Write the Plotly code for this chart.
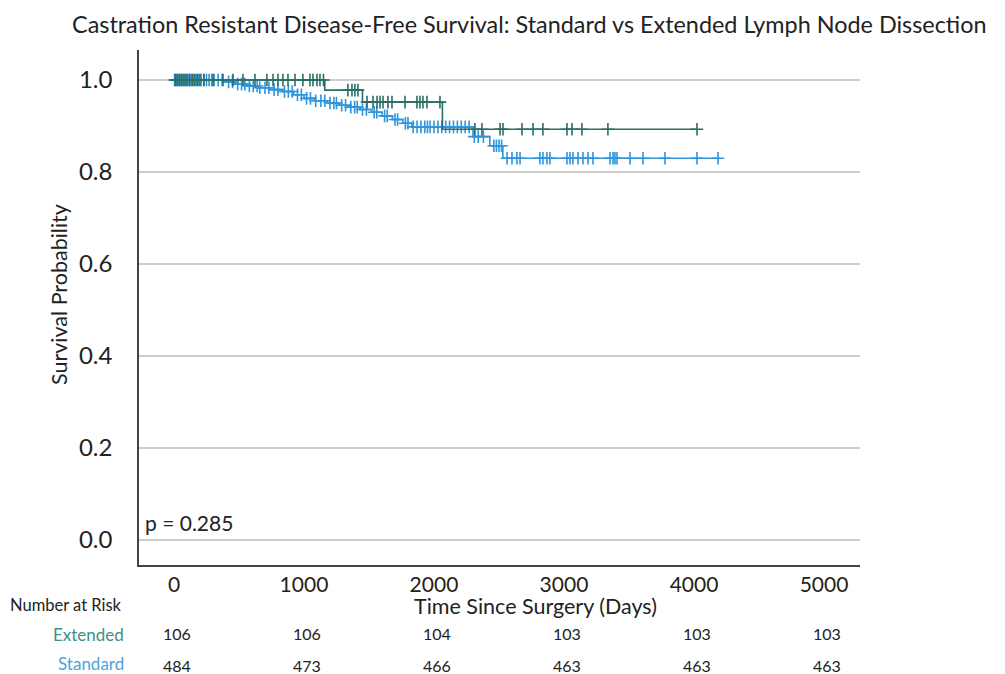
import numpy as np
import plotly.graph_objects as go

# ---------------- data ----------------
title_text = "Castration Resistant Disease-Free Survival: Standard vs Extended Lymph Node Dissection"

# Extended: step times (days) and survival after each step
ext_times = [0, 1160, 1450, 2065]
ext_surv = [1.0, 0.978, 0.952, 0.893]
ext_end = 4023
ext_censor = [10, 25, 40, 55, 70, 85, 100, 120, 140, 160, 180, 200, 230, 300, 377, 454,
              531, 623, 715, 762, 800, 838, 877, 931, 992, 1046, 1069, 1100, 1123, 1150,
              1338, 1369, 1392, 1415, 1485, 1531, 1562, 1585, 1608, 1646, 1677, 1777,
              1869, 1892, 1915, 1946, 2046, 2315, 2369, 2508, 2531, 2677, 2762, 2838,
              3023, 3062, 3138, 3338, 4023]

# Standard
std_times = [0, 380, 470, 560, 650, 740, 830, 920, 1000, 1080, 1180, 1270, 1350, 1430,
             1520, 1600, 1680, 1760, 1830, 2300, 2430, 2530]
std_surv = [1.0, 0.996, 0.991, 0.987, 0.983, 0.979, 0.975, 0.968, 0.960, 0.955, 0.950,
            0.945, 0.941, 0.936, 0.930, 0.922, 0.914, 0.906, 0.898, 0.877, 0.857, 0.830]
std_end = 4185
std_censor = [5, 15, 25, 40, 55, 70, 85, 100, 115, 130, 150, 170, 190, 210, 230, 250, 270,
              290, 310, 340, 370, 420, 450, 490, 520, 545, 580, 610, 640, 660, 700, 730,
              770, 800, 850, 880, 910, 950, 980, 1020, 1050, 1090, 1130, 1160, 1200, 1230,
              1250, 1290, 1320, 1360, 1390, 1410, 1450, 1480, 1540, 1560, 1620, 1640,
              1700, 1720, 1780, 1800, 1840, 1870, 1900, 1930, 1950, 1970, 2000, 2030,
              2060, 2090, 2120, 2150, 2180, 2210, 2240, 2270, 2310, 2340, 2380, 2460,
              2480, 2500, 2520, 2562, 2600, 2638, 2662, 2815, 2838, 2869, 2892, 3023,
              3046, 3069, 3108, 3146, 3185, 3223, 3354, 3377, 3392, 3408, 3508, 3608,
              3777, 4023, 4185]

p_text = "p = 0.285"
risk_times = [0, 1000, 2000, 3000, 4000, 5000]
risk_ext = [106, 106, 104, 103, 103, 103]
risk_std = [484, 473, 466, 463, 463, 463]
x_ticks = [0, 1000, 2000, 3000, 4000, 5000]
y_ticks = [0.0, 0.2, 0.4, 0.6, 0.8, 1.0]

# ---------------- styling ----------------
FONT = "Lato"
TEAL = "#2b6e68"
BLUE = "#2f95dd"
TEAL_TXT = "#3f8f8a"
BLUE_TXT = "#4aa6d6"
TXT = "#222222"

# plot area in page pixels: x 139..860, y 50..565 (page has an 8px body margin)
PX0, PX1, PY0, PY1 = 139, 860, 50, 565
OFF = 8
W, H = 1005 - OFF, 674 - OFF


def px(xp):
    return (xp - PX0) / (PX1 - PX0)


def py(yp):
    return (PY1 - yp) / (PY1 - PY0)


def surv_at(times, surv, t):
    idx = np.searchsorted(np.asarray(times), np.asarray(t), side="right") - 1
    return np.asarray(surv)[idx]


fig = go.Figure()

for times, surv, end, cens, col in [
    (std_times, std_surv, std_end, std_censor, BLUE),
    (ext_times, ext_surv, ext_end, ext_censor, TEAL),
]:
    xs = list(times) + [end]
    ys = list(surv) + [surv[-1]]
    fig.add_trace(go.Scatter(x=xs, y=ys, mode="lines", line=dict(color=col, width=1.6, shape="hv"),
                             showlegend=False, hoverinfo="skip"))
    fig.add_trace(go.Scatter(x=cens, y=surv_at(times, surv, cens), mode="markers",
                             marker=dict(symbol="cross-thin", size=9, line=dict(color=col, width=1.6)),
                             showlegend=False, hoverinfo="skip"))

fig.update_layout(
    width=W, height=H,
    margin=dict(l=PX0 - OFF, r=W - (PX1 - OFF), t=PY0 - OFF, b=H - (PY1 - OFF)),
    paper_bgcolor="white", plot_bgcolor="white",
    font=dict(family=FONT, color=TXT),
    showlegend=False,
)

fig.update_xaxes(range=[-269, 5277], tickvals=x_ticks, ticktext=[str(v) for v in x_ticks],
                 tickfont=dict(size=21, family=FONT, color=TXT), ticks="", showgrid=False,
                 zeroline=False, showline=True, linecolor="#444", linewidth=1.5,
                 ticklabelstandoff=0)
fig.update_yaxes(range=[-0.0543, 1.0652], tickvals=y_ticks, ticktext=[f"{v:.1f}" for v in y_ticks],
                 tickfont=dict(size=24, family=FONT, color=TXT), ticks="", showgrid=True,
                 gridcolor="#cccccc", gridwidth=1.5, zeroline=False, showline=True,
                 linecolor="#444", linewidth=1.5, ticklabelstandoff=20)

ann = []
ann.append(dict(text=title_text, xref="paper", yref="paper", x=px(529), y=py(24),
                xanchor="center", yanchor="middle", showarrow=False, font=dict(size=23.4, family=FONT, color=TXT)))
ann.append(dict(text="Survival Probability", xref="paper", yref="paper", x=px(59),
                y=py(295), textangle=-90, xanchor="center", yanchor="middle", showarrow=False,
                font=dict(size=21.5, family=FONT, color=TXT)))
ann.append(dict(text="Time Since Surgery (Days)", xref="paper", yref="paper", x=px(535),
                y=py(606), xanchor="center", yanchor="middle", showarrow=False,
                font=dict(size=21.5, family=FONT, color=TXT)))
ann.append(dict(text=p_text, xref="paper", yref="paper", x=px(143), y=py(522),
                xanchor="left", yanchor="middle", showarrow=False, font=dict(size=21, family=FONT, color=TXT)))
ann.append(dict(text="Number at Risk", xref="paper", yref="paper", x=px(124), y=py(605),
                xanchor="right", yanchor="middle", showarrow=False, font=dict(size=16.5, family=FONT, color=TXT)))
ann.append(dict(text="Extended", xref="paper", yref="paper", x=px(126), y=py(634),
                xanchor="right", yanchor="middle", showarrow=False, font=dict(size=17, family=FONT, color=TEAL_TXT)))
ann.append(dict(text="Standard", xref="paper", yref="paper", x=px(126), y=py(663),
                xanchor="right", yanchor="middle", showarrow=False, font=dict(size=17, family=FONT, color=BLUE_TXT)))
for t, ne, ns in zip(risk_times, risk_ext, risk_std):
    ann.append(dict(text=str(ne), xref="x", yref="paper", x=t, y=py(633), xshift=3,
                    xanchor="center", yanchor="middle", showarrow=False,
                    font=dict(size=16, family=FONT, color=TXT)))
    ann.append(dict(text=str(ns), xref="x", yref="paper", x=t, y=py(665), xshift=3,
                    xanchor="center", yanchor="middle", showarrow=False,
                    font=dict(size=16, family=FONT, color=TXT)))
fig.update_layout(annotations=ann)

fig.write_html("out.html")
